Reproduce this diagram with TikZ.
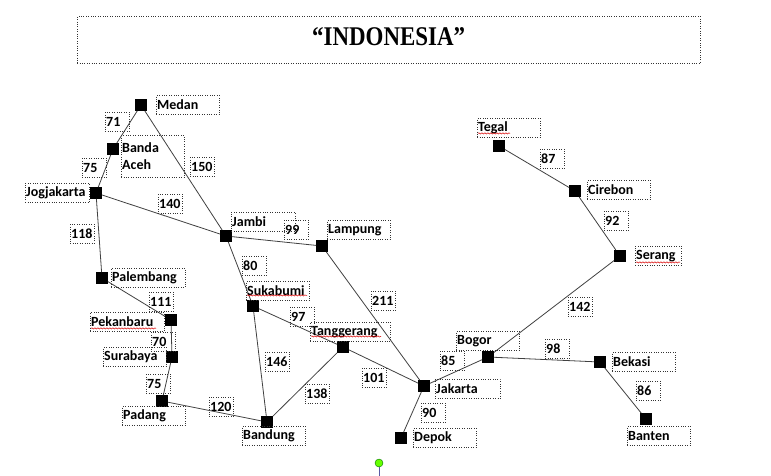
\documentclass[tikz,border=0pt]{standalone}
\usepackage{fontspec}
\setmainfont{Carlito}
\newfontfamily\titlefont[FakeStretch=0.85]{Liberation Serif}
\usetikzlibrary{decorations.pathmorphing}

\begin{document}
\begin{tikzpicture}[x=1pt, y=-1pt,
  city/.style={fill=black, minimum size=11.5pt, inner sep=0pt},
  lbl/.style={draw=black!80, dotted, anchor=north west, inner xsep=1pt, inner ysep=0pt,
    minimum height=19pt, text width=#1, align=left, font=\fontsize{14}{17}\selectfont\bfseries},
  lbl/.default=61pt,
  wt/.style={lbl=22pt},
  road/.style={draw=black!75, line width=0.8pt},
  squig/.style={draw=red!85!black, line width=0.5pt, decorate,
    decoration={snake, segment length=3pt, amplitude=0.6pt}}]
\useasboundingbox (0,0) rectangle (771,475);

% title
\node[draw=black!80, dotted, anchor=north west, minimum width=623pt, minimum height=47pt,
  text height=19pt, text depth=7pt] (title) at (77,16)
  {\titlefont\bfseries\fontsize{27}{30}\selectfont “INDONESIA”};

% cities
\node[city] (medan) at (141,105) {};
\node[city] (banda) at (113,149) {};
\node[city] (jogja) at (96,193) {};
\node[city] (jambi) at (226,236) {};
\node[city] (lampung) at (322,246) {};
\node[city] (palembang) at (102,278) {};
\node[city] (pekanbaru) at (171,320) {};
\node[city] (surabaya) at (172,357) {};
\node[city] (padang) at (162,401) {};
\node[city] (sukabumi) at (253,306) {};
\node[city] (tanggerang) at (343,347) {};
\node[city] (bandung) at (267,422) {};
\node[city] (jakarta) at (424,386) {};
\node[city] (depok) at (401,438) {};
\node[city] (bogor) at (488,357) {};
\node[city] (tegal) at (499,146) {};
\node[city] (cirebon) at (575,191) {};
\node[city] (serang) at (620,256) {};
\node[city] (bekasi) at (600,362) {};
\node[city] (banten) at (646,419) {};

% roads
\foreach \a/\b in {medan/banda, banda/jogja, medan/jambi, jogja/jambi, jogja/palembang,
  jambi/lampung, jambi/sukabumi, palembang/pekanbaru, pekanbaru/surabaya, surabaya/padang,
  padang/bandung, sukabumi/bandung, sukabumi/tanggerang, tanggerang/bandung,
  lampung/jakarta, tanggerang/jakarta, jakarta/depok, jakarta/bogor, bogor/serang,
  bogor/bekasi, bekasi/banten, tegal/cirebon, cirebon/serang}
  \draw[road] (\a) -- (\b);

% city names
\node[lbl] (lmedan) at (156,95) {Medan};
\node[lbl, minimum height=42pt] (lbanda) at (121,135) {Banda\\Aceh};
\node[lbl=62pt] (ljogja) at (25,183) {Jogjakarta};
\node[lbl=62pt] (ljambi) at (231,212) {Jambi};
\node[lbl] (llampung) at (327,220) {Lampung};
\node[lbl=72pt] (lpalembang) at (111,268) {Palembang};
\node[lbl=72pt] (lpekanbaru) at (90,312) {Pekanbaru};
\node[lbl] (lsurabaya) at (103,347) {Surabaya};
\node[lbl] (lpadang) at (122,406) {Padang};
\node[lbl] (lsukabumi) at (246,281) {Sukabumi};
\node[lbl=78pt] (ltanggerang) at (310,322) {Tanggerang};
\node[lbl] (lbandung) at (242,426) {Bandung};
\node[lbl=63pt] (ljakarta) at (435,379) {Jakarta};
\node[lbl] (ldepok) at (413,428) {Depok};
\node[lbl] (lbogor) at (456,331) {Bogor};
\node[lbl] (ltegal) at (477,118) {Tegal};
\node[lbl] (lcirebon) at (587,180) {Cirebon};
\node[lbl=44pt] (lserang) at (635,246) {Serang};
\node[lbl] (lbekasi) at (612,352) {Bekasi};
\node[lbl] (lbanten) at (627,426) {Banten};

% spelling marks
\draw[squig] ([xshift=1pt,yshift=3pt]lpekanbaru.south west) -- ++(65,0);
\draw[squig] ([xshift=1pt,yshift=5pt]lsukabumi.south west) -- ++(60,0);
\draw[squig] ([xshift=1pt,yshift=5pt]ltanggerang.south west) -- ++(70,0);
\draw[squig] ([xshift=1pt,yshift=4pt]ltegal.south west) -- ++(32,0);
\draw[squig] ([xshift=1pt,yshift=3pt]lserang.south west) -- ++(44,0);

% distances
\node[wt] (w71) at (105,112) {71};
\node[wt] (w75a) at (82,158) {75};
\node[wt] (w150) at (190,157) {150};
\node[wt] (w140) at (158,194) {140};
\node[wt] (w118) at (70,224) {118};
\node[wt] (w99) at (284,220) {99};
\node[wt] (w80) at (242,256) {80};
\node[wt] (w111) at (149,292) {111};
\node[wt] (w70) at (151,332) {70};
\node[wt] (w75b) at (146,374) {75};
\node[wt] (w120) at (209,397) {120};
\node[wt] (w146) at (265,352) {146};
\node[wt] (w138) at (305,384) {138};
\node[wt] (w97) at (290,307) {97};
\node[wt] (w211) at (371,291) {211};
\node[wt] (w101) at (362,368) {101};
\node[wt] (w90) at (421,403) {90};
\node[wt] (w85) at (440,351) {85};
\node[wt] (w87) at (540,149) {87};
\node[wt] (w92) at (604,211) {92};
\node[wt] (w142) at (568,297) {142};
\node[wt] (w98) at (545,339) {98};
\node[wt] (w86) at (636,381) {86};

% handle
\node[circle, draw=green!45!black, fill=green!60!yellow, minimum size=8pt, inner sep=0pt] (handle) at (379,463) {};
\coordinate (hbot) at (379,476);
\draw[blue!30!gray, line width=0.8pt] (handle) -- (hbot);
\end{tikzpicture}
\end{document}
